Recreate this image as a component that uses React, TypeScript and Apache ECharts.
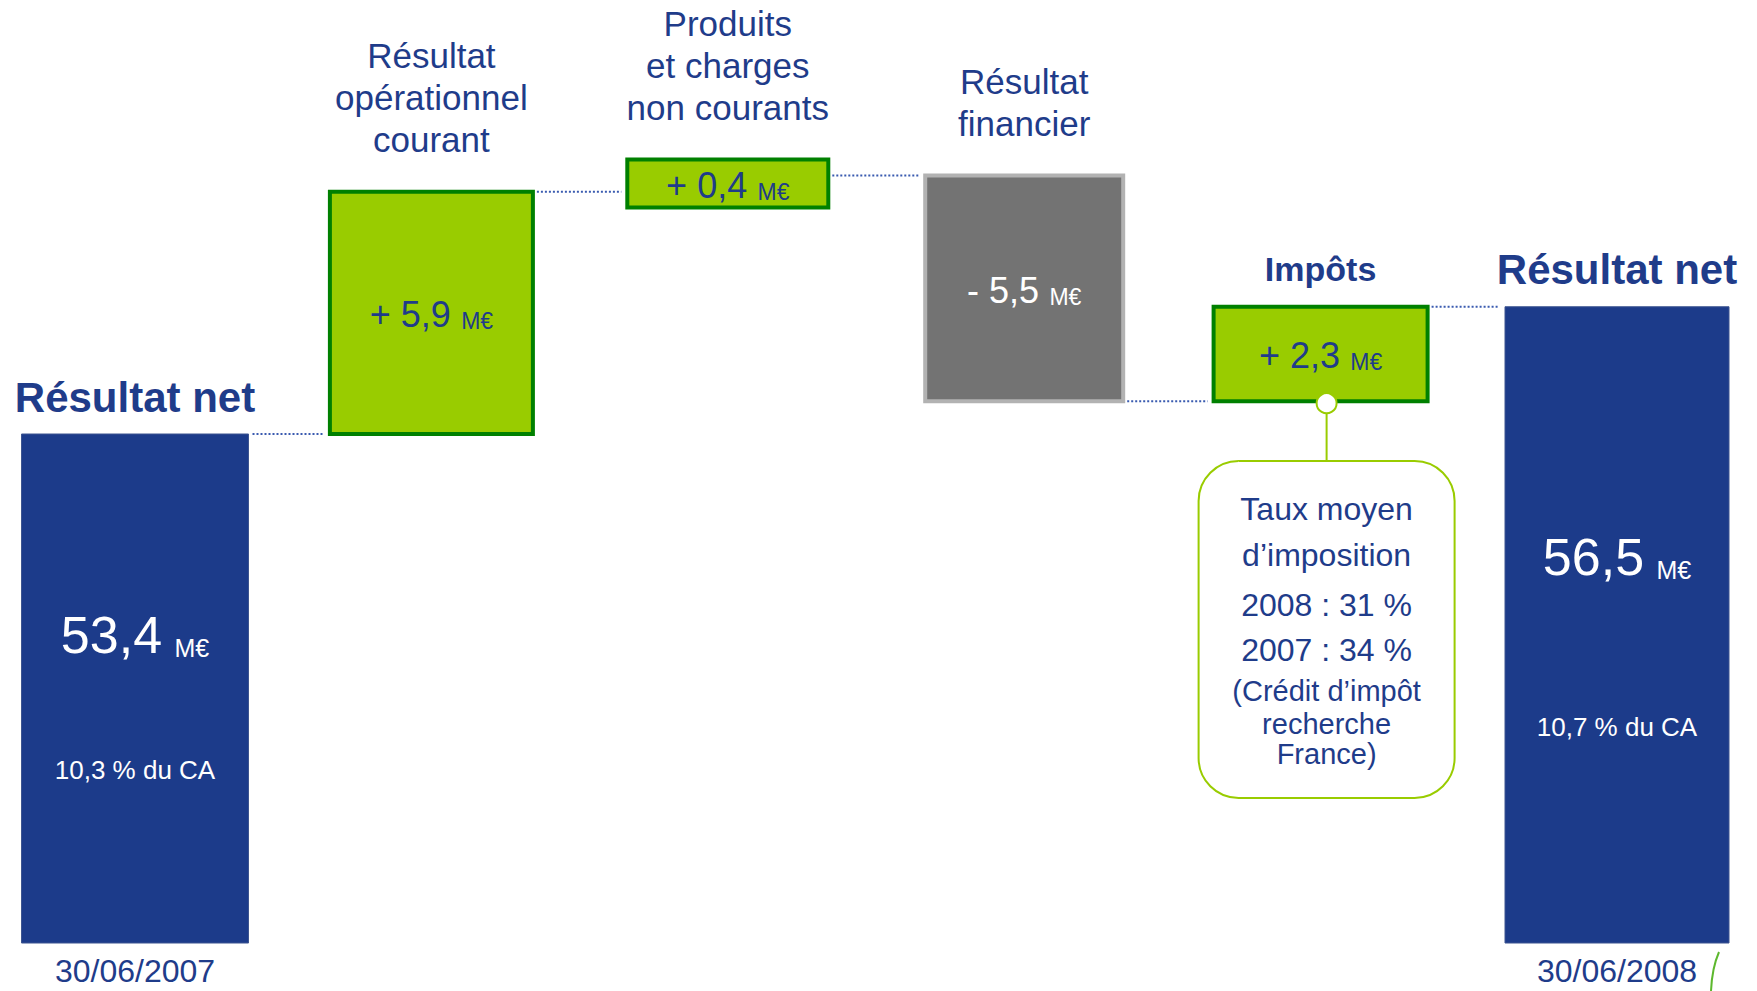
import React, { useEffect, useRef } from 'react';
import * as echarts from 'echarts';

// ---------- data ----------
const CATEGORIES = [
  'Résultat net',
  'Résultat\nopérationnel\ncourant',
  'Produits\net charges\nnon courants',
  'Résultat\nfinancier',
  'Impôts',
  'Résultat net',
];
const VALUES = [53.4, 5.9, 0.4, -5.5, 2.3, 56.5];
const KINDS = ['total', 'delta', 'delta', 'delta', 'delta', 'total'];
const SHARE_OF_SALES = ['10,3 % du CA', '', '', '', '', '10,7 % du CA'];
const DATES = ['30/06/2007', '', '', '', '', '30/06/2008'];
const TAX_NOTE_LINES = ['Taux moyen', 'd’imposition', '2008 : 31 %', '2007 : 34 %', '(Crédit d’impôt', 'recherche', 'France)'];
const UNIT = 'M€';

// ---------- styles ----------
const FONT = '"Liberation Sans", Arial, sans-serif';
const BLUE_TEXT = '#1F3C8A';
const NAVY = '#1C3B8A';
const GREEN = '#99CC00';
const GREEN_BORDER = '#008000';
const GRAY = '#737373';
const GRAY_BORDER = '#B2B2B2';
const DOT = '#3A5BB0';
const BAR_W = [227, 203, 201, 198, 214, 224];
const MIN_H = 48;
const Y_MIN = 41;
const Y_MAX = 62;

const fmt = (v: number) => Math.abs(v).toFixed(1).replace('.', ',');

function buildData() {
  let running = 0;
  return VALUES.map((v, i) => {
    if (KINDS[i] === 'total') {
      running = v;
      return [i, Y_MIN, v, v, v];
    }
    const start = running;
    running = Math.round((running + v) * 10) / 10;
    return [i, Math.min(start, running), Math.max(start, running), v, running];
  });
}

export default function App() {
  const ref = useRef<HTMLDivElement>(null);
  useEffect(() => {
    if (!ref.current) return;
    const chart = echarts.init(ref.current, undefined, { renderer: 'svg' });
    const data = buildData();

    const renderItem = (params: any, api: any) => {
      const i = api.value(0) as number;
      const lo = api.value(1) as number;
      const hi = api.value(2) as number;
      const v = api.value(3) as number;
      const level = api.value(4) as number;
      const pTop = api.coord([i, hi]);
      const pBot = api.coord([i, lo]);
      const cx = pTop[0];
      let yTop = pTop[1];
      let yBot = pBot[1];
      if (yBot - yTop < MIN_H) {
        const m = (yTop + yBot) / 2;
        yTop = m - MIN_H / 2;
        yBot = m + MIN_H / 2;
      }
      const w = BAR_W[i];
      const h = yBot - yTop;
      const x = cx - w / 2;
      const children: any[] = [];
      const isTotal = KINDS[i] === 'total';

      // connector to next bar
      if (i < VALUES.length - 1) {
        const pl = api.coord([i + 1, level]);
        children.push({
          type: 'line',
          shape: { x1: cx + w / 2 + 4, y1: pl[1], x2: pl[0] - BAR_W[i + 1] / 2 - 6, y2: pl[1] },
          style: { stroke: DOT, lineWidth: 2, lineDash: [2, 2] },
        });
      }

      if (isTotal) {
        children.push({
          type: 'rect',
          shape: { x, y: yTop, width: w, height: h },
          style: { fill: NAVY, stroke: '#3D5590', lineWidth: 1 },
        });
        children.push({
          type: 'text',
          style: {
            text: '{v|' + fmt(v) + '} {u|' + UNIT + '}',
            x: cx,
            y: yTop + h * 0.39,
            align: 'center',
            verticalAlign: 'middle',
            fill: '#fff',
            fontSize: 30,
            fontFamily: FONT,
            rich: {
              v: { fontSize: 52, fill: '#fff', fontFamily: FONT, lineHeight: 56, verticalAlign: 'bottom' },
              u: { fontSize: 25, fill: '#fff', fontFamily: FONT, lineHeight: 56, verticalAlign: 'bottom', padding: [0, 0, 0, 4] },
            },
          },
        });
        children.push({
          type: 'text',
          style: {
            text: SHARE_OF_SALES[i],
            x: cx,
            y: yTop + h * 0.66,
            align: 'center',
            verticalAlign: 'middle',
            fill: '#fff',
            fontSize: 26,
            fontFamily: FONT,
          },
        });
        children.push({
          type: 'text',
          style: {
            text: CATEGORIES[i],
            x: cx,
            y: yTop - 16,
            align: 'center',
            verticalAlign: 'bottom',
            fill: BLUE_TEXT,
            fontSize: 42,
            fontWeight: 'bold',
            fontFamily: FONT,
          },
        });
      } else {
        const pos = v >= 0;
        const txtColor = pos ? BLUE_TEXT : '#fff';
        children.push({
          type: 'rect',
          shape: { x, y: yTop, width: w, height: h },
          style: { fill: pos ? GREEN : GRAY, stroke: pos ? GREEN_BORDER : GRAY_BORDER, lineWidth: 4 },
        });
        children.push({
          type: 'text',
          style: {
            text: '{v|' + (pos ? '+ ' : '- ') + fmt(v) + '} {u|' + UNIT + '}',
            x: cx,
            y: (yTop + yBot) / 2,
            align: 'center',
            verticalAlign: 'middle',
            fill: txtColor,
            fontSize: 30,
            fontFamily: FONT,
            rich: {
              v: { fontSize: 36, fill: txtColor, fontFamily: FONT, lineHeight: 40, verticalAlign: 'bottom' },
              u: { fontSize: 23, fill: txtColor, fontFamily: FONT, lineHeight: 40, verticalAlign: 'bottom', padding: [0, 0, 0, 2] },
            },
          },
        });
        const isTax = i === 4;
        children.push({
          type: 'text',
          style: {
            text: CATEGORIES[i],
            x: cx,
            y: yTop - (isTax ? 17 : 31),
            align: 'center',
            verticalAlign: 'bottom',
            fill: BLUE_TEXT,
            fontSize: isTax ? 34 : 35,
            fontWeight: isTax ? 'bold' : 'normal',
            lineHeight: 42,
            fontFamily: FONT,
          },
        });

        if (isTax) {
          const boxTop = 461;
          const boxW = 256;
          const boxH = 337;
          const bcx = cx + 6;
          children.push({
            type: 'line',
            shape: { x1: bcx, y1: yBot + 10, x2: bcx, y2: boxTop },
            style: { stroke: GREEN, lineWidth: 2 },
          });
          children.push({
            type: 'rect',
            shape: { x: bcx - boxW / 2, y: boxTop, width: boxW, height: boxH, r: 40 },
            style: { fill: '#fff', stroke: GREEN, lineWidth: 2 },
          });
          const offs = [48, 94, 144, 189, 230, 263, 293];
          TAX_NOTE_LINES.forEach((t, k) => {
            children.push({
              type: 'text',
              style: {
                text: t,
                x: bcx,
                y: boxTop + offs[k],
                align: 'center',
                verticalAlign: 'middle',
                fill: BLUE_TEXT,
                fontSize: k < 4 ? 32 : 29,
                fontFamily: FONT,
              },
            });
          });
          children.push({
            type: 'circle',
            shape: { cx: bcx, cy: yBot + 2, r: 10 },
            style: { fill: '#fff', stroke: GREEN, lineWidth: 2 },
          });
        }
      }
      return { type: 'group', children };
    };

    chart.setOption({
      animation: false,
      backgroundColor: '#fff',
      grid: { left: 135, right: 140, top: 81, bottom: 48, containLabel: false },
      xAxis: {
        type: 'category',
        data: CATEGORIES,
        boundaryGap: false,
        axisLine: { show: false },
        axisTick: { show: false },
        splitLine: { show: false },
        axisLabel: {
          interval: 0,
          margin: 12,
          fontSize: 32,
          color: BLUE_TEXT,
          fontFamily: FONT,
          formatter: (_val: string, idx: number) => DATES[idx],
        },
      },
      yAxis: {
        type: 'value',
        min: Y_MIN,
        max: Y_MAX,
        show: false,
        splitLine: { show: false },
      },
      series: [
        {
          type: 'custom',
          clip: false,
          renderItem,
          encode: { x: 0, y: [1, 2] },
          data,
        },
      ],
      graphic: [
        {
          type: 'bezierCurve',
          shape: { x1: 1711, y1: 991, x2: 1719, y2: 952, cpx1: 1712, cpy1: 968 },
          style: { stroke: '#5DB82E', lineWidth: 2, fill: 'none' },
        },
      ],
    });
    return () => chart.dispose();
  }, []);
  return (
    <div
      ref={ref}
      style={{ position: 'fixed', left: 0, top: 0, width: 1757, height: 991, background: '#fff' }}
    />
  );
}
